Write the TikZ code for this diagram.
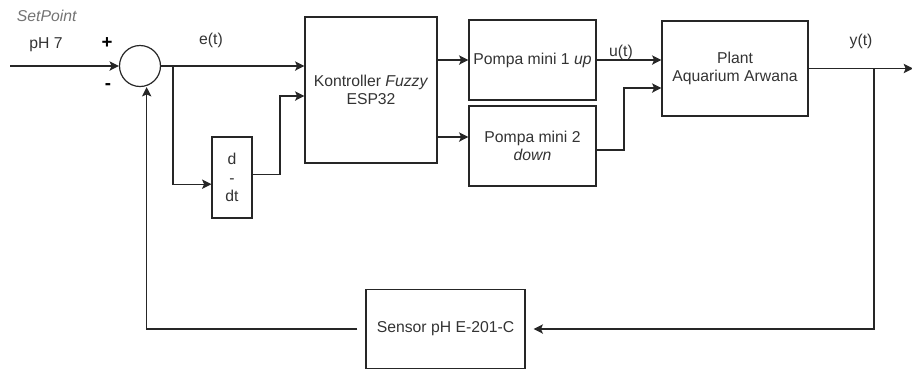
\documentclass[tikz,border=0pt]{standalone}
\usepackage{fontspec}
\setmainfont{Liberation Sans}
\usepackage{tikz}
\usetikzlibrary{positioning, arrows.meta}

\begin{document}
\begin{tikzpicture}[x=0.75pt, y=-0.75pt, font=\fontsize{11.8pt}{14pt}\selectfont, line width=0.9pt]
    \tikzstyle{block} = [rectangle, draw=black!85, inner sep=0pt, align=center, text=black!80]
    \tikzstyle{summer} = [circle, draw=black!85, inner sep=0pt, minimum size=30.75pt]
    \tikzstyle{label} = [inner sep=0pt, text=black!80]
    \tikzstyle{sign} = [inner sep=0pt, text=black, font=\fontsize{14pt}{16pt}\selectfont\bfseries]
    \tikzstyle{arrow} = [draw=black!85, -{Stealth[length=7pt, width=7pt, inset=1.5pt]}]

    \useasboundingbox (0,0) rectangle (912,369);

    \node (sum) [summer] at (140,66) {};
    \node (ctrl) [block, minimum width=99pt, minimum height=109.5pt] at (371,90) {Kontroller \textit{Fuzzy}\\ESP32};
    \node (deriv) [block, minimum width=30pt, minimum height=60.75pt] at (232,177.5) {d\\-\\dt};
    \node (pump1) [block, minimum width=95.25pt, minimum height=60pt] at (532.5,60) {Pompa mini 1 \textit{up}};
    \node (pump2) [block, minimum width=95.25pt, minimum height=60pt] at (532.5,146) {Pompa mini 2\\\textit{down}};
    \node (plant) [block, minimum width=109.5pt, minimum height=71.25pt] at (735,68.5) {Plant\\Aquarium Arwana};
    \node (sensor) [block, minimum width=119.25pt, minimum height=59.25pt] at (445.5,329) {Sensor pH E-201-C};

    \coordinate (in) at (10,66);
    \coordinate (br1) at (173,66);
    \coordinate (j1) at (280,96);
    \coordinate (j2) at (624,88);
    \coordinate (out) at (913,68.5);
    \coordinate (br2) at (874,68.5);

    \node (setpoint) [label, text=black!55] at (47,16) {\textit{SetPoint}};
    \node (ref) [label] at (46,45) {pH 7};
    \node (plus) [sign] at (107,43) {+};
    \node (minus) [sign] at (108,87) {-};
    \node (err) [label] at (211,40) {e(t)};
    \node (ctl) [label] at (621,52) {u(t)};
    \node (outl) [label] at (861,41) {y(t)};

    \draw [arrow] (in) -- (sum.west);
    \draw [arrow] (sum.east) -- (sum.east -| ctrl.west);
    \draw [arrow] (br1) |- ([yshift=-5pt]deriv.west);
    \draw [arrow] ([yshift=2.5pt]deriv.east) -| (j1) -- (j1 -| ctrl.west);
    \draw [arrow] (ctrl.east |- pump1.west) -- (pump1.west);
    \draw [arrow] ([yshift=6.75pt]pump2.west -| ctrl.east) -- ([yshift=6.75pt]pump2.west);
    \draw [arrow] (pump1.east) -- (pump1.east -| plant.west);
    \draw [arrow] ([yshift=-3pt]pump2.east) -| (j2) -- (j2 -| plant.west);
    \draw [arrow] (plant.east) -- (out);
    \draw [arrow] (br2) |- ([xshift=6pt]sensor.east);
    \draw [arrow] ([xshift=-6pt]sensor.west) -| ([xshift=5pt]sum.south);
\end{tikzpicture}
\end{document}
